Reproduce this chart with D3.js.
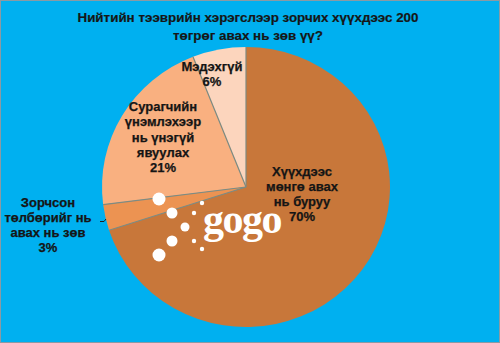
<!DOCTYPE html>
<html>
<head>
<meta charset="utf-8">
<script src="https://cdn.jsdelivr.net/npm/d3@7"></script>
<style>
  html, body { margin: 0; padding: 0; background: #fff; }
  svg { display: block; font-family: "Liberation Sans", Arial, sans-serif; }
</style>
</head>
<body>
<div id="chart"></div>
<script>
// survey answers, clockwise from 12 o'clock
var answers = [
    ["Хүүхдээс", "мөнгө авах", "нь буруу"],
    ["Зорчсон", "төлбөрийг нь", "авах нь зөв"],
    ["Сурагчийн", "үнэмлэхээр", "нь үнэгүй", "явуулах"],
    ["Мэдэхгүй"]
];
var shares = [70, 3, 21, 6];
var sliceColors = ["#c8773a", "#ec9352", "#f9b080", "#fcd5bd"];
var titleLines = ["Нийтийн тээврийн хэрэгслээр зорчих хүүхдээс 200", "төгрөг авах нь зөв үү?"];

// label anchor (offset from pie centre, px) – layout only
var labelAt = [[56, 7], [-198, 38], [-83, -50], [-34, -113]];

var W = 500, H = 343;
var cx = 246, cy = 187, rx = 144, ry = 140;

var svg = d3.select("#chart").append("svg")
    .attr("width", W)
    .attr("height", H);

svg.append("rect")
    .attr("x", 0.5).attr("y", 0.5)
    .attr("width", W - 1).attr("height", H - 1)
    .attr("fill", "#00b0f0")
    .attr("stroke", "#8a9aa4");

// title
svg.append("text")
    .attr("x", 248)
    .attr("y", 22)
    .attr("text-anchor", "middle")
    .attr("font-size", 13.4)
    .attr("font-weight", "bold")
    .attr("fill", "#161616")
    .attr("stroke", "#161616")
    .attr("stroke-width", 0.2)
    .selectAll("tspan")
    .data(titleLines)
    .enter().append("tspan")
    .attr("x", 248)
    .attr("dy", function (d, i) { return i ? 18 : 0; })
    .text(function (d) { return d; });

var pie = d3.pie().sort(null).value(function (d) { return d; });
var arcs = pie(shares);

var arc = d3.arc().innerRadius(0).outerRadius(rx);

var gPie = svg.append("g")
    .attr("transform", "translate(" + cx + "," + cy + ") scale(1," + (ry / rx) + ")");

gPie.selectAll("path")
    .data(arcs)
    .enter().append("path")
    .attr("d", arc)
    .attr("fill", function (d, i) { return sliceColors[i]; });

// separators between slices
gPie.selectAll("line.sep")
    .data(arcs)
    .enter().append("line")
    .attr("class", "sep")
    .attr("x1", 0).attr("y1", 0)
    .attr("x2", function (d) { return rx * Math.sin(d.startAngle); })
    .attr("y2", function (d) { return -rx * Math.cos(d.startAngle); })
    .attr("stroke", "#7f8a80")
    .attr("stroke-width", 1.2)
    .attr("vector-effect", "non-scaling-stroke");

// watermark
var wm = svg.append("g").attr("fill", "#fff");
var logoDots = [[159, 199, 6.5], [172, 213, 5.5], [185, 227, 4.5], [172, 241, 5.5], [159, 255, 6.5],
    [202, 203, 2.2], [194, 213, 2.2], [194, 241, 2.2], [202, 249, 2.2]];
wm.selectAll("circle")
    .data(logoDots)
    .enter().append("circle")
    .attr("cx", function (d) { return d[0]; })
    .attr("cy", function (d) { return d[1]; })
    .attr("r", function (d) { return d[2]; });
wm.append("text")
    .attr("x", 203)
    .attr("y", 233)
    .attr("font-family", "Liberation Serif, serif")
    .attr("font-weight", "bold")
    .attr("font-size", 42)
    .attr("letter-spacing", -1.5)
    .text("gogo");

// labels
var gLab = svg.append("g")
    .attr("font-size", 13)
    .attr("font-weight", "bold")
    .attr("fill", "#151515")
    .attr("stroke", "#151515")
    .attr("stroke-width", 0.25)
    .attr("text-anchor", "middle");

var lineH = 15.2;
arcs.forEach(function (d, i) {
    var lines = answers[i].concat([shares[i] + "%"]);
    var x = cx + labelAt[i][0];
    var y0 = cy + labelAt[i][1] - (lines.length - 1) * lineH / 2;
    var t = gLab.append("text");
    lines.forEach(function (s, j) {
        t.append("tspan")
            .attr("x", x)
            .attr("y", y0 + j * lineH + 4.5)
            .text(s);
    });
});

// leader for the 3% label
svg.append("path")
    .attr("d", "M100,221.5 L104,221.5 L106,219")
    .attr("fill", "none")
    .attr("stroke", "#222")
    .attr("stroke-width", 1);
</script>
</body>
</html>
